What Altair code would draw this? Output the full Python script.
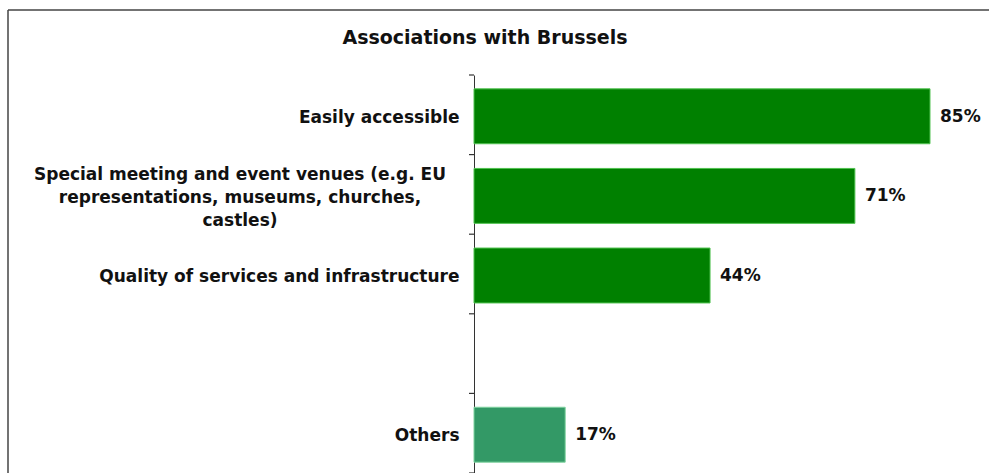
import altair as alt

title_text = "Associations with Brussels"
categories = [
    "Easily accessible",
    "Special meeting and event venues (e.g. EU|representations, museums, churches,|castles)",
    "Quality of services and infrastructure",
    " ",
    "Others",
]
values = [85, 71, 44, None, 17]
bar_colors = ["#008000", "#008000", "#008000", "#008000", "#339966"]
edge_colors = ["#4fc24f", "#4fc24f", "#4fc24f", "#4fc24f", "#7fd39f"]

rows = []
for c, v, fc, ec in zip(categories, values, bar_colors, edge_colors):
    if v is None:
        continue
    rows.append({"category": c, "value": v, "pct": f"{v}%", "color": fc, "edge": ec,
                 "multi": "|" in c})
data = alt.Data(values=rows)
cat_data = alt.Data(values=[{"category": c} for c in categories])
one_row = alt.Data(values=[{"k": 1}])
title_data = alt.Data(values=[{"title": title_text}])

FONT = "DejaVu Sans"
W, H = 515, 398

y_scale = alt.Scale(domain=categories, paddingInner=0, paddingOuter=0)
y_enc = alt.Y(
    "category:N",
    sort=categories,
    scale=y_scale,
    axis=alt.Axis(
        title=None,
        ticks=False,
        domainColor="#333333",
        labelPadding=15,
        labelOffset=3,
        labelLimit=470,
        labelFont=FONT,
        labelFontSize=17,
        labelFontWeight="bold",
        labelColor="#111111",
        labelExpr="indexof(datum.value, '|') >= 0 ? '' : datum.value",
    ),
)
x_scale = alt.Scale(domain=[0, 96], nice=False)

bars = alt.Chart(data).mark_bar(strokeWidth=1, height=alt.RelativeBandSize(band=0.69), yOffset=1.5).encode(
    y=y_enc,
    x=alt.X("value:Q", scale=x_scale, axis=None),
    fill=alt.Fill("color:N", scale=None),
    stroke=alt.Stroke("edge:N", scale=None),
)

pct_text = alt.Chart(data).mark_text(
    align="left", baseline="middle", dx=10, dy=2, font=FONT, fontSize=17, fontWeight="bold", color="#111111"
).encode(
    y=alt.Y("category:N", sort=categories),
    x=alt.X("value:Q", scale=x_scale),
    text="pct:N",
)

multi_label = alt.Chart(data).transform_filter("datum.multi").transform_calculate(
    lines="split(datum.category, '|')"
).mark_text(
    align="center", baseline="middle", lineHeight=23, dy=-19,
    font=FONT, fontSize=17, fontWeight="bold", color="#111111",
).encode(
    y=alt.Y("category:N", sort=categories),
    x=alt.value(-234),
    text=alt.Text("lines:N"),
)

ticks = alt.Chart(cat_data).mark_rule(color="#333333", strokeWidth=1.2).encode(
    y=alt.Y("category:N", sort=categories, bandPosition=0),
    x=alt.value(-5),
    x2=alt.value(0),
)
last_tick = alt.Chart(one_row).mark_rule(color="#333333", strokeWidth=1.2).encode(
    y=alt.value(H), x=alt.value(-5), x2=alt.value(0)
)

frame_top = alt.Chart(one_row).mark_rule(color="#444444", strokeWidth=1.5).encode(
    x=alt.value(-466), x2=alt.value(W + 20), y=alt.value(-65)
)
frame_left = alt.Chart(one_row).mark_rule(color="#444444", strokeWidth=1.5).encode(
    x=alt.value(-466), y=alt.value(-65), y2=alt.value(H + 20)
)

title_mark = alt.Chart(title_data).mark_text(
    align="center", baseline="alphabetic", font=FONT, fontSize=19, fontWeight="bold", color="#111111"
).encode(
    x=alt.value(11), y=alt.value(-31), text="title:N"
)

chart = alt.layer(bars, pct_text, multi_label, ticks, last_tick, frame_top, frame_left, title_mark).properties(
    width=W,
    height=H,
    autosize=alt.AutoSizeParams(type="none"),
    padding={"left": 474, "top": 75, "right": 0, "bottom": 0},
).configure(background="white").configure_view(strokeWidth=0)

chart.save("out.html", embed_options={"renderer": "svg", "actions": False})
